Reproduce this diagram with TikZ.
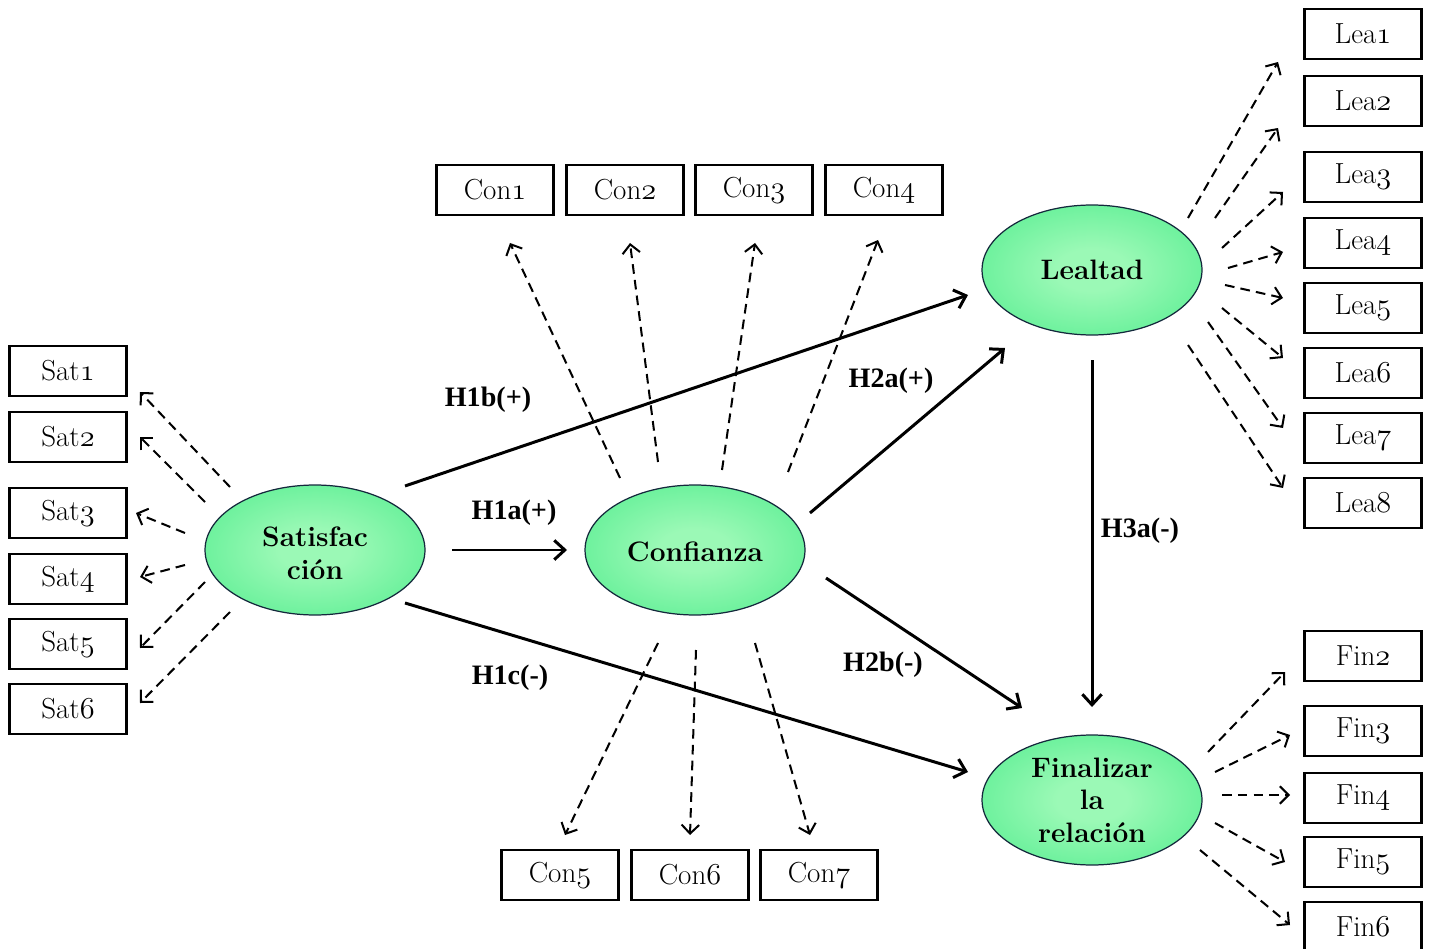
\documentclass[tikz,border=0pt]{standalone}
\usepackage{fontspec}
\newfontfamily\lblfont{Liberation Serif}
\usetikzlibrary{arrows.meta,shapes.geometric,calc}
\definecolor{gin}{RGB}{155,249,182}
\definecolor{gout}{RGB}{45,230,122}
\definecolor{eline}{RGB}{20,40,60}
\pgfdeclareradialshading{ellshade}{\pgfpoint{0bp}{0bp}}{color(0bp)=(gin); color(8bp)=(gin); color(50bp)=(gout); color(100bp)=(gout)}
\newcommand\osn[1]{$\mathnormal{#1}$}
\tikzset{
  ind/.style={draw, line width=1.3pt, minimum width=2.34cm, minimum height=1cm, inner sep=0pt, font=\fontsize{16.5}{19}\selectfont},
  lat/.style={ellipse, draw=eline, line width=0.7pt, shading=ellshade, minimum width=4.4cm, minimum height=2.6cm, inner sep=0pt},
  lattxt/.style={align=center, inner sep=0pt, font=\fontsize{16}{18.5}\selectfont\bfseries},
  hyp/.style={inner sep=0pt, font=\lblfont\fontsize{16}{19}\selectfont\bfseries},
  dar/.style={dash pattern=on 5.5pt off 3.5pt, line width=1.15pt, -{Straight Barb[length=5pt,width=10pt]}},
  sar/.style={line width=1.7pt, -{Straight Barb[length=6pt,width=11pt]}}
}
\begin{document}
\begin{tikzpicture}[x=0.02cm,y=-0.02cm]
\clip (0,0) rectangle (1429,949);
\fill[white] (0,0) rectangle (1429,949);
% latent variables
\node[lat] (sat) at (315,550) {};
\node[lat] (con) at (695,550) {};
\node[lat] (lea) at (1092,270) {};
\node[lat] (fin) at (1092,800) {};
\node[lattxt] (sattxt) at (315,553) {Satisfac\\ción};
\node[lattxt] (contxt) at (695,552) {Confianza};
\node[lattxt] (leatxt) at (1092,270) {Lealtad};
\node[lattxt] (fintxt) at (1092,800) {Finalizar\\la\\relación};
% indicators
\node[ind] (sat1) at (68,371) {Sat\osn{1}};
\node[ind] (sat2) at (68,437) {Sat\osn{2}};
\node[ind] (sat3) at (68,513) {Sat\osn{3}};
\node[ind] (sat4) at (68,579) {Sat\osn{4}};
\node[ind] (sat5) at (68,644) {Sat\osn{5}};
\node[ind] (sat6) at (68,709) {Sat\osn{6}};
\node[ind] (con1) at (495,190) {Con\osn{1}};
\node[ind] (con2) at (625,190) {Con\osn{2}};
\node[ind] (con3) at (754,190) {Con\osn{3}};
\node[ind] (con4) at (884,190) {Con\osn{4}};
\node[ind] (con5) at (560,875) {Con\osn{5}};
\node[ind] (con6) at (690,875) {Con\osn{6}};
\node[ind] (con7) at (819,875) {Con\osn{7}};
\node[ind] (lea1) at (1363,34) {Lea\osn{1}};
\node[ind] (lea2) at (1363,101) {Lea\osn{2}};
\node[ind] (lea3) at (1363,177) {Lea\osn{3}};
\node[ind] (lea4) at (1363,243) {Lea\osn{4}};
\node[ind] (lea5) at (1363,308) {Lea\osn{5}};
\node[ind] (lea6) at (1363,373) {Lea\osn{6}};
\node[ind] (lea7) at (1363,438) {Lea\osn{7}};
\node[ind] (lea8) at (1363,503) {Lea\osn{8}};
\node[ind] (fin2) at (1363,656) {Fin\osn{2}};
\node[ind] (fin3) at (1363,731) {Fin\osn{3}};
\node[ind] (fin4) at (1363,798) {Fin\osn{4}};
\node[ind] (fin5) at (1363,862) {Fin\osn{5}};
\node[ind] (fin6) at (1363,927) {Fin\osn{6}};
% dashed loadings: Satisfaccion
\draw[dar] ($(sat)+(-85,-63)$) -- ($(sat1)+(72,21)$);
\draw[dar] ($(sat)+(-110,-48)$) -- ($(sat2)+(72,0)$);
\draw[dar] ($(sat)+(-130,-17)$) -- ($(sat3)+(68,0)$);
\draw[dar] ($(sat)+(-130,15)$) -- ($(sat4)+(72,-2)$);
\draw[dar] ($(sat)+(-110,32)$) -- ($(sat5)+(72,4)$);
\draw[dar] ($(sat)+(-85,62)$) -- ($(sat6)+(72,-6)$);
% Confianza
\draw[dar] ($(con)+(-75,-72)$) -- ($(con1)+(15,53)$);
\draw[dar] ($(con)+(-37,-88)$) -- ($(con2)+(5,53)$);
\draw[dar] ($(con)+(27,-80)$) -- ($(con3)+(1,53)$);
\draw[dar] ($(con)+(93,-78)$) -- ($(con4)+(-6,50)$);
\draw[dar] ($(con)+(-37,93)$) -- ($(con5)+(5,-40)$);
\draw[dar] ($(con)+(1,100)$) -- ($(con6)+(0,-40)$);
\draw[dar] ($(con)+(60,93)$) -- ($(con7)+(-9,-40)$);
% Lealtad
\draw[dar] ($(lea)+(96,-52)$) -- ($(lea1)+(-85,28)$);
\draw[dar] ($(lea)+(123,-52)$) -- ($(lea2)+(-85,27)$);
\draw[dar] ($(lea)+(130,-22)$) -- ($(lea3)+(-80,15)$);
\draw[dar] ($(lea)+(136,-2)$) -- ($(lea4)+(-80,9)$);
\draw[dar] ($(lea)+(133,15)$) -- ($(lea5)+(-80,-10)$);
\draw[dar] ($(lea)+(130,38)$) -- ($(lea6)+(-80,-15)$);
\draw[dar] ($(lea)+(116,52)$) -- ($(lea7)+(-80,-10)$);
\draw[dar] ($(lea)+(96,75)$) -- ($(lea8)+(-80,-15)$);
% Finalizar
\draw[dar] ($(fin)+(116,-48)$) -- ($(fin2)+(-78,16)$);
\draw[dar] ($(fin)+(123,-28)$) -- ($(fin3)+(-73,4)$);
\draw[dar] ($(fin)+(130,-5)$) -- ($(fin4)+(-73,-3)$);
\draw[dar] ($(fin)+(123,23)$) -- ($(fin5)+(-78,0)$);
\draw[dar] ($(fin)+(108,50)$) -- ($(fin6)+(-73,-2)$);
% structural paths
\draw[sar] ($(sat)+(90,-64)$) -- ($(lea)+(-124,25)$);
\draw[sar] ($(sat)+(137,0)$) -- ($(con)+(-128,0)$);
\draw[sar] ($(sat)+(90,53)$) -- ($(fin)+(-124,-28)$);
\draw[sar] ($(con)+(115,-37)$) -- ($(lea)+(-87,78)$);
\draw[sar] ($(con)+(131,28)$) -- ($(fin)+(-70,-92)$);
\draw[sar] ($(lea)+(0,90)$) -- ($(fin)+(0,-93)$);
% hypothesis labels
\node[hyp] (h1b) at (488,400) {H1b(+)};
\node[hyp] (h1a) at (514,513) {H1a(+)};
\node[hyp] (h1c) at (510,678) {H1c(-)};
\node[hyp] (h2a) at (891,381) {H2a(+)};
\node[hyp] (h2b) at (883,665) {H2b(-)};
\node[hyp] (h3a) at (1140,531) {H3a(-)};
\end{tikzpicture}
\end{document}
